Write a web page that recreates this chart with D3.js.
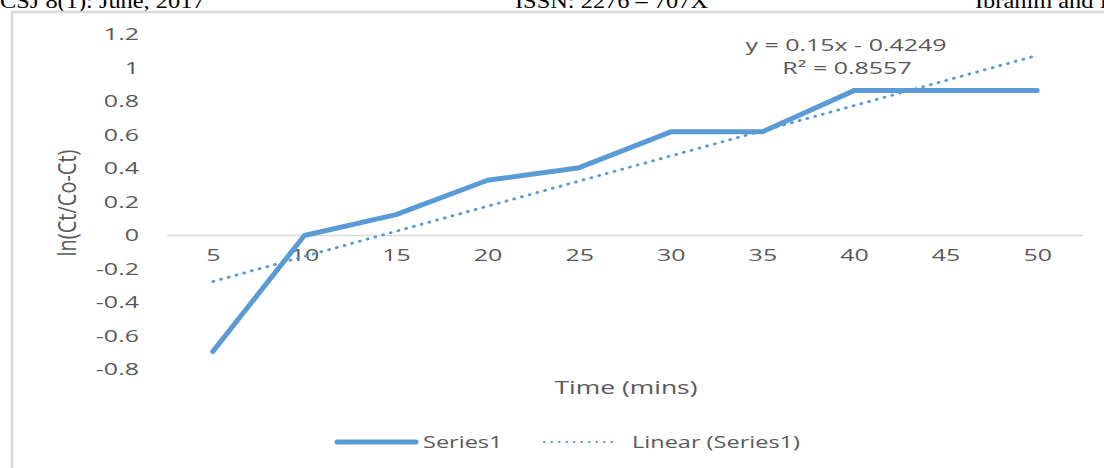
<!DOCTYPE html>
<html>
<head>
<meta charset="utf-8">
<script src="https://cdn.jsdelivr.net/npm/d3@7"></script>
<style>
  html, body { margin: 0; padding: 0; background: #fff; }
  svg { display: block; }
</style>
</head>
<body>
<svg id="chart" width="1104" height="468"></svg>
<script>
// Time points (minutes) and measured ln(Ct/(Co-Ct)) values
const times = [5, 10, 15, 20, 25, 30, 35, 40, 45, 50];
const lnValues = [-0.693, 0, 0.125, 0.33, 0.405, 0.619, 0.619, 0.865, 0.865, 0.865];
const yTicks = [1.2, 1, 0.8, 0.6, 0.4, 0.2, 0, -0.2, -0.4, -0.6, -0.8];
// Linear trendline coefficients (x is the point index 1..n)
const trendSlope = [0.15];
const trendIntercept = [-0.4249];
const trendR2 = [0.8557];
const headerTexts = ["CSJ 8(1): June, 2017", "ISSN: 2276 \u2013 707X", "Ibrahim and I"];

const svg = d3.select("#chart");
const blue = "#5B9BD5";
const gray = "#595959";
const font = "'Open Sans', 'Noto Sans', sans-serif";
const SX = 1.47; // horizontal stretch of the chart lettering

// Place a text at (x, y) with a horizontal stretch
function stretchedText(parent, x, y, str, size, anchor, sx = SX) {
  return parent.append("text")
    .attr("transform", `translate(${x},${y}) scale(${sx},1)`)
    .attr("text-anchor", anchor)
    .attr("font-family", font).attr("font-size", size).attr("fill", gray)
    .text(str);
}

// Running page header (partly cut off at the top)
const headerX = [0, 515, 975];
svg.selectAll("text.header").data(headerTexts).join("text")
  .attr("class", "header")
  .attr("transform", (d, i) => `translate(${headerX[i]},8) scale(1.22,1)`)
  .attr("font-family", "'Liberation Serif', 'Times New Roman', serif")
  .attr("font-size", 20).attr("fill", "#000")
  .text(d => d);

// Chart frame
svg.append("rect")
  .attr("x", 12).attr("y", 12).attr("width", 1110).attr("height", 470)
  .attr("fill", "#fff").attr("stroke", "#d9d9d9").attr("stroke-width", 2.5);

const x = d3.scalePoint().domain(times).range([167, 1083]).padding(0.5);
const y = d3.scaleLinear().domain([-0.8, 1.2]).range([369.5, 34.5]);

// Y axis labels (no axis line)
const yAxis = d3.axisLeft(y).tickValues(yTicks).tickSize(0).tickPadding(0)
  .tickFormat(d => String(+d.toFixed(1)));
const gy = svg.append("g").attr("transform", "translate(139,0)").call(yAxis);
gy.select(".domain").remove();
gy.selectAll("text").attr("font-family", font).attr("font-size", 17).attr("fill", gray)
  .attr("x", 0).attr("transform", `scale(${SX},1)`);

// Horizontal axis line at y = 0
svg.append("line")
  .attr("x1", 167).attr("x2", 1083).attr("y1", y(0)).attr("y2", y(0))
  .attr("stroke", "#d9d9d9").attr("stroke-width", 1.5);

// Category labels below the zero line
const xAxis = d3.axisBottom(x).tickSize(0).tickPadding(0);
const gx = svg.append("g").attr("transform", `translate(0,${y(0) + 13})`).call(xAxis);
gx.select(".domain").remove();
gx.selectAll("text").attr("font-family", font).attr("font-size", 17).attr("fill", gray)
  .attr("transform", `scale(${SX},1)`);

// Data series
const line = d3.line().x(d => x(d[0])).y(d => y(d[1]));
svg.append("path")
  .datum(times.map((t, i) => [t, lnValues[i]]))
  .attr("d", line)
  .attr("fill", "none").attr("stroke", blue).attr("stroke-width", 5)
  .attr("stroke-linejoin", "round").attr("stroke-linecap", "round");

// Linear trendline
const trendPts = [times[0], times[times.length - 1]].map(t => {
  const idx = times.indexOf(t) + 1;
  return [t, trendSlope[0] * idx + trendIntercept[0]];
});
svg.append("path")
  .datum(trendPts)
  .attr("d", line)
  .attr("fill", "none").attr("stroke", blue).attr("stroke-width", 2.8)
  .attr("stroke-dasharray", "1 7").attr("stroke-linecap", "round");

// Trendline equation
stretchedText(svg, 846, 51, `y = ${trendSlope[0]}x - ${Math.abs(trendIntercept[0])}`, 17, "middle");
stretchedText(svg, 847, 74, `R\u00B2 = ${trendR2[0]}`, 17, "middle");

// Axis titles
svg.append("text")
  .attr("transform", "translate(76,203) scale(1.3,1) rotate(-90)")
  .attr("text-anchor", "middle")
  .attr("font-family", font).attr("font-size", 20).attr("fill", gray)
  .text("ln(Ct/Co-Ct)");
stretchedText(svg, 626, 394, "Time (mins)", 18, "middle");

// Legend
const lg = svg.append("g");
lg.append("line").attr("x1", 337).attr("x2", 416).attr("y1", 442).attr("y2", 442)
  .attr("stroke", blue).attr("stroke-width", 5).attr("stroke-linecap", "round");
stretchedText(lg, 423, 448, "Series1", 16, "start");
lg.append("line").attr("x1", 544).attr("x2", 617).attr("y1", 442).attr("y2", 442)
  .attr("stroke", blue).attr("stroke-width", 2.2).attr("stroke-dasharray", "0.5 7")
  .attr("stroke-linecap", "round");
stretchedText(lg, 632, 448, "Linear (Series1)", 16, "start");
</script>
</body>
</html>
